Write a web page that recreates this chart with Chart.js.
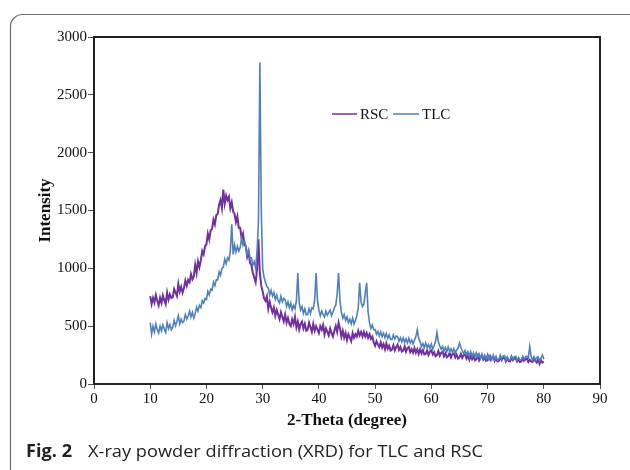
<!DOCTYPE html>
<html>
<head>
<meta charset="utf-8">
<script src="https://cdn.jsdelivr.net/npm/chart.js@4.4.1/dist/chart.umd.min.js"></script>
<style>
  html, body { margin: 0; padding: 0; background: #ffffff; }
  #wrap { width: 630px; height: 470px; }
</style>
</head>
<body>
<div id="wrap"><canvas id="c" width="630" height="470"></canvas></div>
<script>
// ---- Data ----
const seriesNames = ["RSC", "TLC"];
const xTicks = [0, 10, 20, 30, 40, 50, 60, 70, 80, 90];
const yTicks = [0, 500, 1000, 1500, 2000, 2500, 3000];
const xTitle = "2-Theta (degree)";
const yTitle = "Intensity";
const captionBold = "Fig. 2";
const captionText = "X-ray powder diffraction (XRD) for TLC and RSC";

const twoTheta = [
10,10.25,10.5,10.75, 11,11.25,11.5,11.75, 12,12.25,12.5,12.75, 13,13.25,13.5,13.75,
14,14.25,14.5,14.75, 15,15.25,15.5,15.75, 16,16.25,16.5,16.75, 17,17.25,17.5,17.75,
18,18.25,18.5,18.75, 19,19.25,19.5,19.75, 20,20.25,20.5,20.75, 21,21.25,21.5,21.75,
22,22.25,22.5,22.75, 23,23.25,23.5,23.75, 24,24.25,24.5,24.75, 25,25.25,25.5,25.75,
26,26.25,26.5,26.75, 27,27.25,27.5,27.75, 28,28.25,28.5,28.75, 29,29.25,29.5,29.75,
30,30.25,30.5,30.75, 31,31.25,31.5,31.75, 32,32.25,32.5,32.75, 33,33.25,33.5,33.75,
34,34.25,34.5,34.75, 35,35.25,35.5,35.75, 36,36.25,36.5,36.75, 37,37.25,37.5,37.75,
38,38.25,38.5,38.75, 39,39.25,39.5,39.75, 40,40.25,40.5,40.75, 41,41.25,41.5,41.75,
42,42.25,42.5,42.75, 43,43.25,43.5,43.75, 44,44.25,44.5,44.75, 45,45.25,45.5,45.75,
46,46.25,46.5,46.75, 47,47.25,47.5,47.75, 48,48.25,48.5,48.75, 49,49.25,49.5,49.75,
50,50.25,50.5,50.75, 51,51.25,51.5,51.75, 52,52.25,52.5,52.75, 53,53.25,53.5,53.75,
54,54.25,54.5,54.75, 55,55.25,55.5,55.75, 56,56.25,56.5,56.75, 57,57.25,57.5,57.75,
58,58.25,58.5,58.75, 59,59.25,59.5,59.75, 60,60.25,60.5,60.75, 61,61.25,61.5,61.75,
62,62.25,62.5,62.75, 63,63.25,63.5,63.75, 64,64.25,64.5,64.75, 65,65.25,65.5,65.75,
66,66.25,66.5,66.75, 67,67.25,67.5,67.75, 68,68.25,68.5,68.75, 69,69.25,69.5,69.75,
70,70.25,70.5,70.75, 71,71.25,71.5,71.75, 72,72.25,72.5,72.75, 73,73.25,73.5,73.75,
74,74.25,74.5,74.75, 75,75.25,75.5,75.75, 76,76.25,76.5,76.75, 77,77.25,77.5,77.75,
78,78.25,78.5,78.75, 79,79.25,79.5,79.75, 80
];

const rscIntensity = [
760,690,745,705, 770,720,680,745, 700,765,725,690, 790,730,775,745,
750,820,790,760, 865,800,840,790, 830,895,850,900, 880,950,905,930,
1030,960,1060,1010, 1070,1150,1120,1190, 1210,1300,1250,1330, 1340,1420,1380,1460,
1470,1550,1590,1520, 1680,1560,1630,1590, 1620,1520,1570,1490, 1470,1400,1450,1350,
1350,1260,1300,1210, 1190,1100,1140,1050, 1030,960,920,880, 990,1250,960,850,
800,740,720,760, 650,710,660,620, 660,590,640,600, 560,620,580,540,
600,530,570,520, 500,560,520,580, 490,540,470,520, 540,480,520,460,
470,530,490,450, 520,460,500,470, 440,500,470,510, 430,480,450,420,
480,440,410,460, 500,450,530,480, 410,460,400,440, 380,430,400,370,
440,400,430,410, 460,420,450,410, 450,410,440,400, 430,390,410,360,
330,370,340,320, 360,315,345,300, 350,305,330,290, 300,335,290,320,
340,295,320,280, 290,325,280,310, 320,275,300,270, 310,270,300,260,
300,265,295,255, 260,290,250,280, 290,255,275,240, 250,285,245,270,
280,240,265,230, 240,270,230,260, 265,230,255,220, 230,260,225,250,
255,220,245,210, 250,215,240,205, 215,245,205,235, 240,210,230,200,
205,240,210,230, 235,200,225,195, 200,230,205,225, 230,195,220,200,
195,228,205,220, 225,195,215,190, 195,225,200,215, 220,190,210,195,
190,220,200,185, 215,175,205,185, 195
];

const tlcIntensity = [
530,430,500,450, 520,470,440,500, 460,510,475,445, 530,480,515,470,
490,550,505,540, 590,520,560,530, 545,600,560,590, 630,580,620,570,
610,665,630,680, 660,720,700,740, 730,800,770,820, 810,880,850,900,
900,970,940,1000, 1010,1080,1040,1090, 1070,1150,1380,1120, 1200,1140,1190,1150,
1180,1260,1200,1240, 1190,1120,1160,1090, 1090,1030,1060,1000, 1150,1400,2780,1500,
1000,920,880,840, 830,770,810,760, 790,730,770,720, 700,760,710,740,
730,670,710,660, 700,640,680,650, 720,960,700,640, 670,610,650,600,
600,650,610,660, 650,730,960,720, 640,590,630,600, 580,630,595,620,
640,590,620,660, 680,780,960,720, 620,570,600,550, 580,530,560,520,
570,520,550,590, 660,875,710,670, 690,790,875,620, 530,480,510,470,
470,430,455,415, 450,410,440,400, 435,395,425,385, 385,425,390,415,
410,370,400,365, 400,360,390,355, 395,355,380,345, 380,410,470,395,
365,325,350,315, 355,315,340,305, 345,300,330,370, 445,365,330,300,
325,285,315,280, 320,280,305,275, 305,265,295,310, 355,315,290,260,
290,255,280,245, 280,240,270,235, 270,230,260,220, 260,220,250,215,
255,215,245,210, 250,210,240,205, 210,248,215,240, 245,205,235,210,
210,245,215,235, 240,205,230,210, 210,240,215,235, 240,225,325,240,
205,235,210,230, 235,200,225,250, 215
];

const seriesColors = ["#7030A0", "#4F81BD"];

// ---- Build chart ----
const toPoints = (xs, ys) => xs.map((x, i) => ({ x: x, y: ys[i] }));

const PLOT = { left: 94, right: 600, top: 37, bottom: 384 };

const decoPlugin = {
  id: 'deco',
  beforeDraw(chart) {
    const ctx = chart.ctx;
    ctx.save();
    ctx.fillStyle = '#ffffff';
    ctx.fillRect(0, 0, chart.width, chart.height);
    ctx.strokeStyle = '#6d6d6d';
    ctx.lineWidth = 1.2;
    const x0 = 10.5, y0 = 14.5, r = 12;
    ctx.beginPath();
    ctx.moveTo(x0, chart.height + 20);
    ctx.lineTo(x0, y0 + r);
    ctx.arcTo(x0, y0, x0 + r, y0, r);
    ctx.lineTo(chart.width + 20, y0);
    ctx.stroke();
    ctx.restore();
  },
  afterDraw(chart) {
    const ctx = chart.ctx;
    const a = chart.chartArea;
    ctx.save();
    ctx.strokeStyle = '#222222';
    ctx.lineWidth = 2;
    ctx.strokeRect(a.left, a.top, a.right - a.left, a.bottom - a.top);

    ctx.lineWidth = 1.5;
    ctx.font = '15px "Liberation Serif"';
    ctx.textBaseline = 'middle';
    ctx.fillStyle = '#111111';
    const ly = 114;
    const items = [
      { x1: 332, x2: 357, tx: 360, text: seriesNames[0], color: seriesColors[0] },
      { x1: 393, x2: 419, tx: 422, text: seriesNames[1], color: seriesColors[1] }
    ];
    items.forEach(it => {
      ctx.strokeStyle = it.color;
      ctx.beginPath();
      ctx.moveTo(it.x1, ly);
      ctx.lineTo(it.x2, ly);
      ctx.stroke();
      ctx.fillText(it.text, it.tx, ly + 1);
    });

    ctx.fillStyle = '#222222';
    ctx.textBaseline = 'alphabetic';
    const base = 457;
    ctx.font = 'bold 17px "Open Sans"';
    let w = ctx.measureText(captionBold).width;
    let sx = 46 / w;
    ctx.save();
    ctx.translate(26, base);
    ctx.scale(sx, 1);
    ctx.fillText(captionBold, 0, 0);
    ctx.restore();
    ctx.font = '17px "Open Sans"';
    w = ctx.measureText(captionText).width;
    sx = 395 / w;
    ctx.save();
    ctx.translate(88, base);
    ctx.scale(sx, 1);
    ctx.fillText(captionText, 0, 0);
    ctx.restore();
    ctx.restore();
  }
};

const tickFont = { family: 'Liberation Serif', size: 15 };

new Chart(document.getElementById('c'), {
  type: 'line',
  data: {
    datasets: [
      {
        label: seriesNames[0],
        data: toPoints(twoTheta, rscIntensity),
        borderColor: seriesColors[0],
        borderWidth: 2,
        pointRadius: 0,
        tension: 0,
        fill: false,
        order: 1
      },
      {
        label: seriesNames[1],
        data: toPoints(twoTheta, tlcIntensity),
        borderColor: seriesColors[1],
        borderWidth: 1.6,
        pointRadius: 0,
        tension: 0,
        fill: false,
        order: 0
      }
    ]
  },
  options: {
    responsive: false,
    animation: false,
    devicePixelRatio: 1,
    layout: { padding: { left: 0, top: PLOT.top, right: 630 - PLOT.right, bottom: 0 } },
    plugins: {
      legend: { display: false },
      tooltip: { enabled: false },
      title: { display: false }
    },
    scales: {
      x: {
        type: 'linear',
        min: 0, max: 90,
        afterBuildTicks: (s) => { s.ticks = xTicks.map(v => ({ value: v })); },
        afterFit: (s) => { s.height = 470 - PLOT.bottom; },
        grid: { display: true, drawOnChartArea: false, drawTicks: true, tickLength: 5, color: '#555555', lineWidth: 1 },
        border: { display: false },
        ticks: { font: tickFont, color: '#111111', padding: 1, maxRotation: 0, autoSkip: false, callback: (v) => String(v) },
        title: {
          display: true, text: xTitle, color: '#111111',
          font: { family: 'Liberation Serif', size: 17, weight: 'bold' },
          padding: { top: 0, bottom: 39 }
        }
      },
      y: {
        type: 'linear',
        min: 0, max: 3000,
        afterBuildTicks: (s) => { s.ticks = yTicks.map(v => ({ value: v })); },
        afterFit: (s) => { s.width = PLOT.left; },
        grid: { display: true, drawOnChartArea: false, drawTicks: true, tickLength: 6, color: '#555555', lineWidth: 1 },
        border: { display: false },
        ticks: { font: tickFont, color: '#111111', padding: 1, autoSkip: false, callback: (v) => String(v) },
        title: {
          display: true, text: yTitle, color: '#111111',
          font: { family: 'Liberation Serif', size: 17, weight: 'bold' },
          padding: { top: 35, bottom: 0 }
        }
      }
    }
  },
  plugins: [decoPlugin]
});
</script>
</body>
</html>
